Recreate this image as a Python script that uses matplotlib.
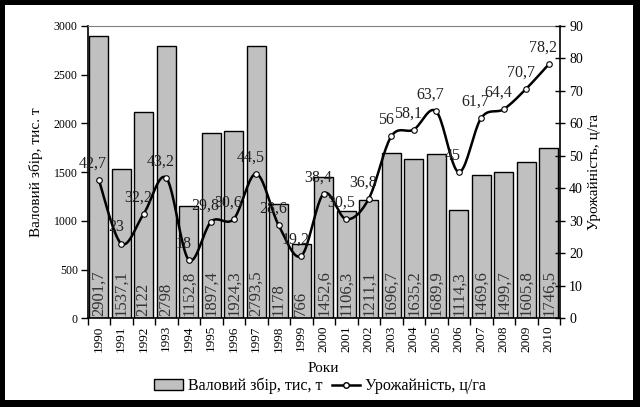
import numpy as np
import matplotlib
matplotlib.use("Agg")
import matplotlib.pyplot as plt
from matplotlib.patches import Rectangle
from matplotlib.lines import Line2D
from matplotlib.patches import Patch

years = [str(y) for y in range(1990, 2011)]
harvest = [2901.7, 1537.1, 2122, 2798, 1152.8, 1897.4, 1924.3, 2793.5, 1178, 766,
           1452.6, 1106.3, 1211.1, 1696.7, 1635.2, 1689.9, 1114.3, 1469.6, 1499.7,
           1605.8, 1746.5]
yields = [42.7, 23, 32.2, 43.2, 18, 29.8, 30.6, 44.5, 28.6, 19.2, 38.4, 30.5, 36.8,
          56, 58.1, 63.7, 45, 61.7, 64.4, 70.7, 78.2]

plt.rcParams['font.family'] = ['Liberation Serif', 'DejaVu Serif']

def fmt(v):
    s = ('%.1f' % v).rstrip('0').rstrip('.')
    return s.replace('.', ',')

def smooth(x, y, n=20):
    x = np.asarray(x, float); y = np.asarray(y, float)
    px, py = [], []
    for i in range(len(x) - 1):
        x0, y0 = (x[i - 1], y[i - 1]) if i > 0 else (x[i], y[i])
        x1, y1 = x[i], y[i]
        x2, y2 = x[i + 1], y[i + 1]
        x3, y3 = (x[i + 2], y[i + 2]) if i + 2 < len(x) else (x[i + 1], y[i + 1])
        c1x, c1y = x1 + (x2 - x0) / 6, y1 + (y2 - y0) / 6
        c2x, c2y = x2 - (x3 - x1) / 6, y2 - (y3 - y1) / 6
        t = np.linspace(0, 1, n, endpoint=(i == len(x) - 2))
        b0 = (1 - t) ** 3; b1 = 3 * (1 - t) ** 2 * t; b2 = 3 * (1 - t) * t ** 2; b3 = t ** 3
        px.extend(b0 * x1 + b1 * c1x + b2 * c2x + b3 * x2)
        py.extend(b0 * y1 + b1 * c1y + b2 * c2y + b3 * y2)
    return np.array(px), np.array(py)

fig = plt.figure(figsize=(6.4, 4.07), dpi=100)
fig.patch.set_facecolor('black')
fig.add_artist(Rectangle((5 / 640, 7 / 407), 628 / 640, 395 / 407,
                         transform=fig.transFigure, facecolor='white', edgecolor='none', zorder=0))

L, R = 87.5 / 640, 560 / 640
B, T = 1 - 318.3 / 407, 1 - 26 / 407
ax = fig.add_axes([L, B, R - L, T - B])
ax.set_facecolor('white')
x = np.arange(len(years))
ax.bar(x, harvest, width=0.86, color='#c0c0c0', edgecolor='black', linewidth=1.0, zorder=2)
ax.set_xlim(-0.5, len(years) - 0.5)
ax.set_ylim(0, 3000)
ax.set_yticks(np.arange(0, 3001, 500))
ax.set_xticks(x)
ax.set_xticklabels(years, rotation=90, fontsize=9.5)
ax.set_xticks(np.arange(-0.5, len(years), 1), minor=True)
ax.tick_params(axis='x', which='major', length=0, pad=5)
ax.tick_params(axis='x', which='minor', length=5, width=1, direction='out')
ax.tick_params(axis='y', length=5, width=1, direction='out', labelsize=8.5, pad=2)
for s in ['left', 'bottom']:
    ax.spines[s].set_linewidth(1.2)
ax.spines['right'].set_visible(False)
ax.spines['top'].set_color('#808080')
ax.spines['top'].set_linewidth(0.8)

for xi, v in zip(x, harvest):
    ax.text(xi, 25, fmt(v), rotation=90, ha='center', va='bottom', fontsize=12,
            color='#333333', zorder=3)

ax.set_ylabel('Валовий збір, тис. т', fontsize=11, labelpad=8)
ax.set_xlabel('Роки', fontsize=11, labelpad=7)

ax2 = ax.twinx()
ax2.set_ylim(0, 90)
ax2.set_yticks(np.arange(0, 91, 10))
ax2.tick_params(axis='y', length=7, width=1, direction='inout', labelsize=10, pad=3)
for s in ['left', 'top', 'bottom']:
    ax2.spines[s].set_visible(False)
ax2.spines['right'].set_linewidth(1.2)
sx, sy = smooth(x, yields)
ax2.plot(sx, sy, color='black', linewidth=1.8, zorder=4)
ax2.plot(x, yields, linestyle='none', marker='o', markersize=4, markerfacecolor='white',
         markeredgecolor='black', markeredgewidth=0.8, zorder=5)
for xi, v in zip(x, yields):
    ax2.annotate(fmt(v), (xi, v), xytext=(-4, 6), textcoords='offset points',
                 ha='center', va='bottom', fontsize=11.5, color='#222222', zorder=6)
ax2.set_ylabel('Урожайність, ц/га', fontsize=11, labelpad=4)

handles = [Patch(facecolor='#c0c0c0', edgecolor='black', linewidth=1.0),
           Line2D([0], [0], color='black', linewidth=1.8, marker='o', markersize=4,
                  markerfacecolor='white', markeredgecolor='black')]
fig.legend(handles, ['Валовий збір, тис, т', 'Урожайність, ц/га'], loc='center',
           bbox_to_anchor=(0.5, 1 - 386 / 407), ncol=2, frameon=False, fontsize=11.5,
           handlelength=1.8, handletextpad=0.3, columnspacing=0.6)

fig.savefig('out.png', dpi=100, facecolor=fig.get_facecolor())
